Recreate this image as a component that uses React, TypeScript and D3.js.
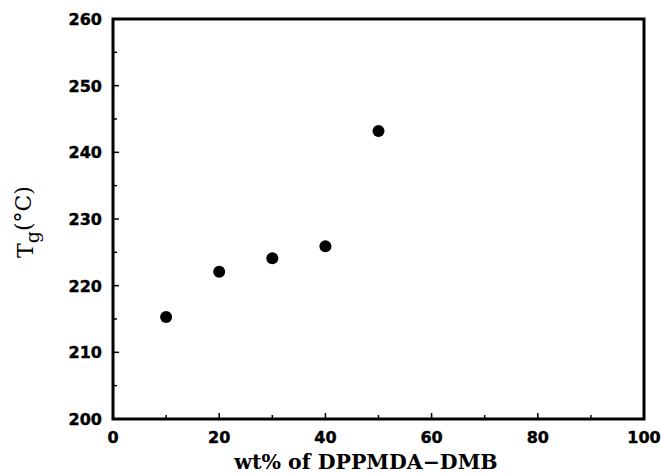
import { useEffect, useRef } from 'react';
import * as d3 from 'd3';

const wtPercent = [10, 20, 30, 40, 50];
const tgValues = [215.3, 222.1, 224.1, 225.9, 243.2];
const xTicks = [0, 20, 40, 60, 80, 100];
const yTicks = [200, 210, 220, 230, 240, 250, 260];

const W = 661;
const H = 474;
const margin = { top: 19, right: 17, bottom: 55, left: 113 };

export default function App() {
  const svgRef = useRef<SVGSVGElement>(null);

  useEffect(() => {
    const svg = d3.select(svgRef.current);
    svg.selectAll('*').remove();

    const x = d3.scaleLinear().domain([0, 100]).range([margin.left, W - margin.right]);
    const y = d3.scaleLinear().domain([200, 260]).range([H - margin.bottom, margin.top]);

    // minor ticks
    const xMinor = d3.range(10, 100, 20);
    const yMinor = d3.range(205, 260, 10);

    const g = svg.append('g');

    // x axis ticks (inward)
    g.selectAll('.xt')
      .data(xTicks)
      .join('line')
      .attr('x1', (d) => x(d))
      .attr('x2', (d) => x(d))
      .attr('y1', y(200))
      .attr('y2', y(200) - 6)
      .attr('stroke', '#000')
      .attr('stroke-width', 1.5);
    g.selectAll('.xm')
      .data(xMinor)
      .join('line')
      .attr('x1', (d) => x(d))
      .attr('x2', (d) => x(d))
      .attr('y1', y(200))
      .attr('y2', y(200) - 4)
      .attr('stroke', '#000')
      .attr('stroke-width', 1.5);

    g.selectAll('.yt')
      .data(yTicks)
      .join('line')
      .attr('x1', x(0))
      .attr('x2', x(0) + 6)
      .attr('y1', (d) => y(d))
      .attr('y2', (d) => y(d))
      .attr('stroke', '#000')
      .attr('stroke-width', 1.5);
    g.selectAll('.ym')
      .data(yMinor)
      .join('line')
      .attr('x1', x(0))
      .attr('x2', x(0) + 4)
      .attr('y1', (d) => y(d))
      .attr('y2', (d) => y(d))
      .attr('stroke', '#000')
      .attr('stroke-width', 1.5);

    // frame
    g.append('rect')
      .attr('x', x(0))
      .attr('y', y(260))
      .attr('width', x(100) - x(0))
      .attr('height', y(200) - y(260))
      .attr('fill', 'none')
      .attr('stroke', '#000')
      .attr('stroke-width', 3);

    // tick labels
    g.selectAll('.xl')
      .data(xTicks)
      .join('text')
      .attr('x', (d) => x(d))
      .attr('y', 443)
      .attr('text-anchor', 'middle')
      .attr('font-family', 'DejaVu Sans')
      .attr('font-weight', 'bold')
      .attr('font-size', 16)
      .attr('fill', '#000')
      .attr('stroke', '#000')
      .attr('stroke-width', 0.4)
      .text((d) => d);

    g.selectAll('.yl')
      .data(yTicks)
      .join('text')
      .attr('x', 102)
      .attr('y', (d) => y(d) + 6)
      .attr('text-anchor', 'end')
      .attr('font-family', 'DejaVu Sans')
      .attr('font-weight', 'bold')
      .attr('font-size', 16)
      .attr('fill', '#000')
      .attr('stroke', '#000')
      .attr('stroke-width', 0.4)
      .text((d) => d);

    // axis titles
    g.append('text')
      .attr('x', 366)
      .attr('y', 469)
      .attr('text-anchor', 'middle')
      .attr('font-family', 'DejaVu Serif')
      .attr('font-weight', 'bold')
      .attr('font-size', 20.5)
      .attr('fill', '#000')
      .text('wt% of DPPMDA\u2212DMB');

    const yt = g.append('text')
      .attr('transform', `translate(33, ${222}) rotate(-90)`)
      .attr('text-anchor', 'middle')
      .attr('font-family', 'DejaVu Serif')
      .attr('font-size', 22)
      .attr('fill', '#000');
    yt.append('tspan').text('T');
    yt.append('tspan').attr('dy', 6).attr('font-size', 19).text('g');
    yt.append('tspan').attr('dy', -8).text('(\u00b0C)');

    // points
    g.selectAll('circle')
      .data(wtPercent)
      .join('circle')
      .attr('cx', (d) => x(d))
      .attr('cy', (d, i) => y(tgValues[i]))
      .attr('r', 6)
      .attr('fill', '#000');
  }, []);

  return (
    <div style={{ position: 'absolute', left: 0, top: 0 }}>
      <svg ref={svgRef} width={W} height={H} style={{ display: 'block', background: '#fff' }} />
    </div>
  );
}
